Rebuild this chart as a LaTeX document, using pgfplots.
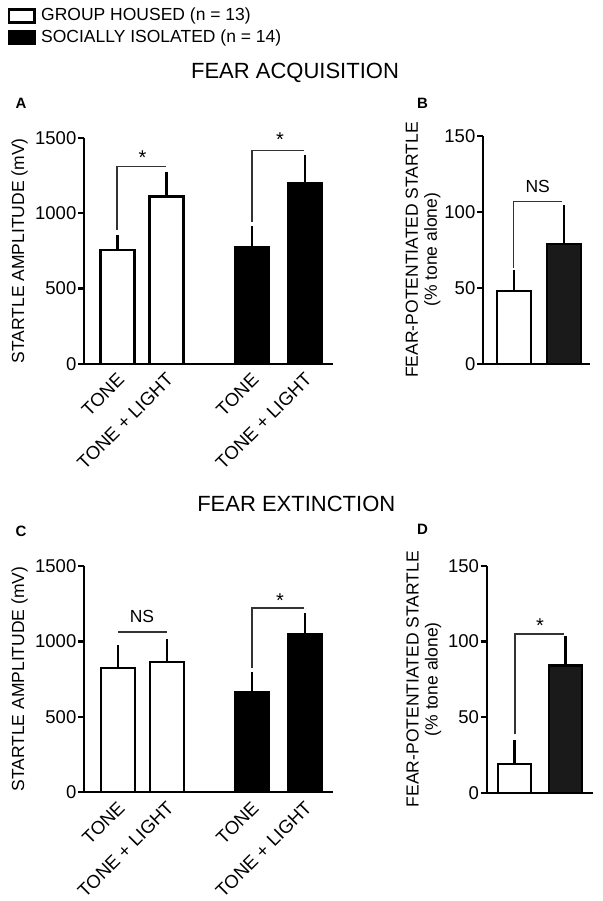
\documentclass[border=0pt]{standalone}
\usepackage{fontspec}
\setmainfont{Liberation Sans}
\usepackage{pgfplots}
\pgfplotsset{compat=1.18}
\newcommand{\fs}{\fontsize{17.5}{19}\selectfont}
\newcommand{\ft}{\fontsize{18.5}{20}\selectfont}
\definecolor{brk}{HTML}{333333}
\definecolor{dk}{HTML}{1A1A1A}
\pgfplotsset{
 every error bar/.append style={line width=2.4pt, black, solid},
 panel/.style={
   scale only axis, axis lines=left, axis line style={-, line width=2.3pt, black},
   xmin=0, ymin=0, clip=false, enlargelimits=false,
   ytick pos=left, tick align=outside, major tick length=6pt,
   every tick/.style={line width=2.3pt, black},
   x tick style={draw=none},
   tick label style={font=\ft},
   label style={font=\fs},
   /pgf/number format/assume math mode=true,
   /pgf/number format/1000 sep={},
   ybar,
   yticklabel style={inner xsep=1.5pt},
   xticklabel style={rotate=45, anchor=east, inner sep=2pt, yshift=-7pt},
   ylabel style={at={(axis description cs:0,0.5)}, anchor=center, align=center},
 },
 eb/.style={error bars/.cd, y dir=plus, y explicit, error mark=-,
   error bar style={line width=2.4pt, black, solid},
   error mark options={line width=2.4pt, mark size=3.5pt, black, solid}},
 wb/.style={fill=white, draw=black, line width=2.3pt, bar shift=0pt, eb},
 bb/.style={fill=black, draw=black, line width=2.3pt, bar shift=0pt, eb},
 db/.style={fill=dk, draw=black, line width=2.3pt, bar shift=0pt, eb},
}
\tikzset{
 brack/.style={draw=brk, line width=1.6pt},
 ast/.style={font=\fontsize{20}{20}\selectfont, anchor=north, inner sep=0pt},
 ns/.style={font=\fs, anchor=north, inner sep=0pt},
}
\begin{document}
\begin{tikzpicture}[x=1pt,y=1pt]
\useasboundingbox (0,0) rectangle (602,901);
% legend
\draw[line width=2.3pt, fill=white] (9,891.5) rectangle (34.5,878.5);
\draw[line width=2.3pt, fill=black] (9,870) rectangle (34.5,857.5);
\node[font=\fs, anchor=west, inner sep=0pt] at (41,885.5) {GROUP HOUSED (n = 13)};
\node[font=\fs, anchor=west, inner sep=0pt] at (41,863.5) {SOCIALLY ISOLATED (n = 14)};
% titles
\node[font=\fontsize{22}{24}\selectfont] at (295,828.5) {FEAR ACQUISITION};
\node[font=\fontsize{22}{24}\selectfont] at (296.3,397) {FEAR EXTINCTION};
% panel letters
\node[font=\fontsize{15}{16}\selectfont\bfseries] at (21,798) {A};
\node[font=\fontsize{15}{16}\selectfont\bfseries] at (422.5,798) {B};
\node[font=\fontsize{15}{16}\selectfont\bfseries] at (21,370) {C};
\node[font=\fontsize{15}{16}\selectfont\bfseries] at (422.5,372) {D};

% Panel A
\begin{axis}[panel, at={(84pt,537pt)}, anchor=south west,
  width=249pt, height=226.3pt, xmax=249, ymax=1500,
  ytick={0,500,1000,1500}, bar width=34,
  xtick={33.5,82.5,168,221},
  xticklabels={TONE, TONE + LIGHT, TONE, TONE + LIGHT},
  ylabel={STARTLE AMPLITUDE (mV)},
  ylabel style={yshift=64.5pt}]
\addplot[wb] coordinates {(33.5,757) +- (0,77) (82.5,1110) +- (0,142)};
\addplot[bb] coordinates {(168,772) +- (0,117) (221,1199) +- (0,161)};
\draw[brack] (axis cs:33,889) |- (axis cs:82,1309);
\draw[brack] (axis cs:168,944) |- (axis cs:220,1415);
\node[ast] at (axis cs:58.5,1413) {*};
\node[ast] at (axis cs:196,1535) {*};
\end{axis}

% Panel B
\begin{axis}[panel, at={(483pt,537pt)}, anchor=south west,
  width=107pt, height=228.3pt, xmax=107, ymax=150,
  ytick={0,50,100,150}, bar width=34, xtick=\empty,
  ylabel={FEAR-POTENTIATED STARTLE\\(\% tone alone)},
  ylabel style={yshift=60pt}]
\addplot[wb] coordinates {(30.7,48) +- (0,11.4)};
\addplot[db] coordinates {(80.7,78.7) +- (0,23.3)};
\draw[brack] (axis cs:30.3,63.2) |- (axis cs:79,106.8);
\node[ns] at (axis cs:54.7,121) {NS};
\end{axis}

% Panel C
\begin{axis}[panel, at={(84pt,108.7pt)}, anchor=south west,
  width=249pt, height=226.3pt, xmax=249, ymax=1500,
  ytick={0,500,1000,1500}, bar width=34,
  xtick={34,83,168,221},
  xticklabels={TONE, TONE + LIGHT, TONE, TONE + LIGHT},
  ylabel={STARTLE AMPLITUDE (mV)},
  ylabel style={yshift=64.5pt}]
\addplot[wb] coordinates {(34,822) +- (0,130) (83,862) +- (0,130)};
\addplot[bb] coordinates {(168,667) +- (0,104) (221,1051) +- (0,111)};
\draw[brack] (axis cs:34,1064) -- (axis cs:83,1064);
\node[ns] at (axis cs:58,1208) {NS};
\draw[brack] (axis cs:168,824) |- (axis cs:220,1223);
\node[ast] at (axis cs:196,1319) {*};
\end{axis}

% Panel D
\begin{axis}[panel, at={(486.7pt,108.3pt)}, anchor=south west,
  width=106pt, height=227pt, xmax=106, ymax=150,
  ytick={0,50,100,150}, bar width=33.5, xtick=\empty,
  ylabel={FEAR-POTENTIATED STARTLE\\(\% tone alone)},
  ylabel style={yshift=63pt}]
\addplot[wb] coordinates {(27.8,19) +- (0,13.6)};
\addplot[db] coordinates {(78.8,84) +- (0,17)};
\draw[brack] (axis cs:28.3,38.6) |- (axis cs:77.3,104.7);
\node[ast] at (axis cs:53.3,114.8) {*};
\end{axis}
\end{tikzpicture}
\end{document}
